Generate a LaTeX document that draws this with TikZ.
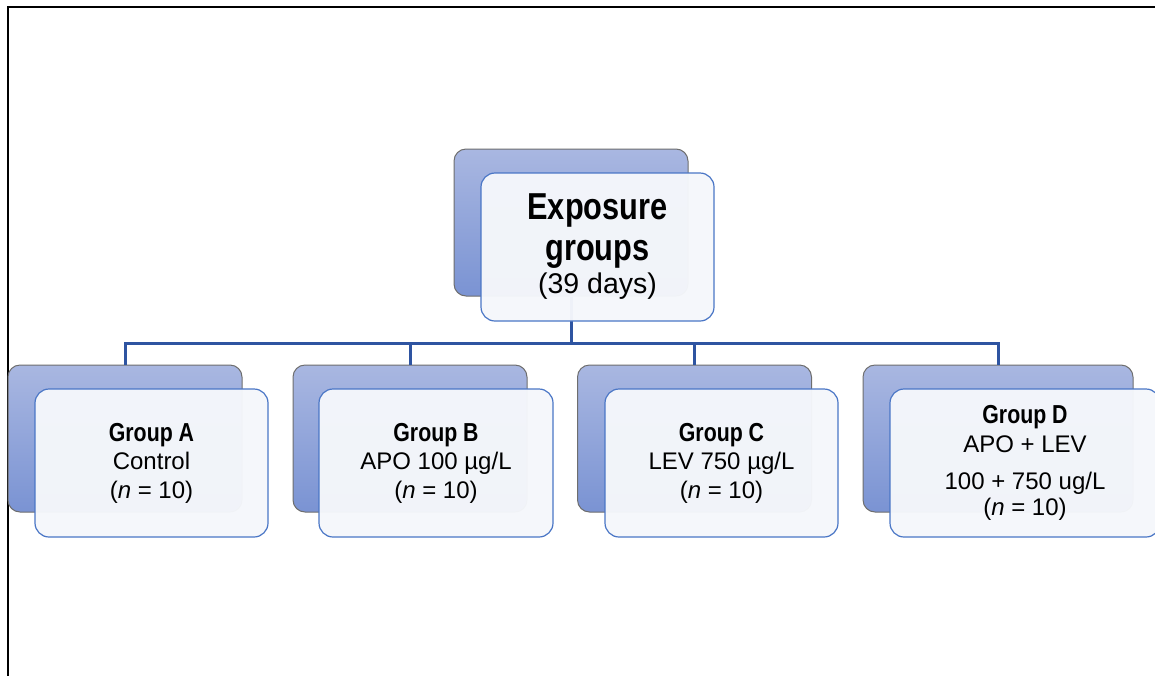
\documentclass[tikz,border=0pt]{standalone}
\usepackage{fontspec}
\setmainfont{Liberation Sans}
\newfontfamily\nb[FakeStretch=0.82]{Liberation Sans}
\definecolor{backtop}{HTML}{A9B7E1}
\definecolor{backbot}{HTML}{7A93D3}
\definecolor{backline}{HTML}{6E6E6E}
\definecolor{frontfill}{HTML}{F5F7FB}
\definecolor{frontline}{HTML}{4A76C6}
\definecolor{connblue}{HTML}{2E54A1}
\newcommand{\gtitle}[1]{{\nb\bfseries\fontsize{26}{28.5}\selectfont #1}}
\newcommand{\etitle}[1]{{\nb\bfseries\fontsize{37.5}{41}\selectfont #1}}
\tikzset{
  backbox/.style={draw=backline, line width=1pt, rounded corners=12pt, top color=backtop, bottom color=backbot, inner sep=0pt, minimum height=147pt},
  frontbox/.style={draw=frontline, line width=1.2pt, rounded corners=14pt, fill=frontfill, fill opacity=0.97, text opacity=1, inner sep=0pt, minimum height=148pt, align=center, font=\fontsize{24}{28.5}\selectfont},
  conn/.style={draw=connblue, line width=3pt}
}
\begin{document}
\begin{tikzpicture}[x=1pt,y=-1pt]
\clip (0,0) rectangle (1155,675);
\fill[white] (0,0) rectangle (1155,675);
\draw[line width=1.5pt] (8,676) -- (8,7) -- (1156,7);
% back boxes
\node[backbox, minimum width=234pt] (tb) at (571,222.5) {};
\node[backbox, minimum width=234pt] (ab) at (125,438.5) {};
\node[backbox, minimum width=234pt] (bb) at (410,438.5) {};
\node[backbox, minimum width=234pt] (cb) at (694.5,438.5) {};
\node[backbox, minimum width=270pt] (db) at (998,438.5) {};
% connectors
\coordinate (bus) at (571,343);
\draw[conn] (tb.south) -- (bus);
\draw[conn] (ab.north) |- (bus) -| (db.north);
\draw[conn] (bb.north) -- (bb.north |- bus);
\draw[conn] (cb.north) -- (cb.north |- bus);
% front boxes
\node[frontbox, minimum width=233pt] (tf) at (597.5,247) {\etitle{Exposure}\\[12pt]\etitle{groups}\\[4pt]{\fontsize{28.5}{30}\selectfont (39 days)}};
\node[frontbox, minimum width=233pt] (af) at (151.5,463) {\gtitle{Group A}\\Control\\(\textit{n} = 10)};
\node[frontbox, minimum width=234pt] (bf) at (436,463) {\gtitle{Group B}\\APO 100 µg/L\\(\textit{n} = 10)};
\node[frontbox, minimum width=233pt] (cf) at (721.5,463) {\gtitle{Group C}\\LEV 750 µg/L\\(\textit{n} = 10)};
\node[frontbox, minimum width=270pt] (df) at (1025,463) {\gtitle{Group D}\\APO + LEV\\[9pt]100 + 750 ug/L\\[-3pt](\textit{n} = 10)};
\end{tikzpicture}
\end{document}
